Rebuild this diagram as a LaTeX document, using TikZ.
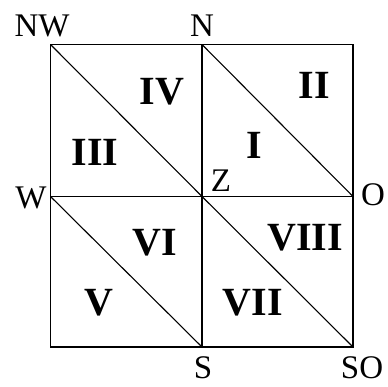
\documentclass[tikz,border=0pt]{standalone}
\usepackage{fontspec}
\setmainfont{Liberation Serif}
\begin{document}
\begin{tikzpicture}[x=1pt,y=-1pt,
  lbl/.style={inner sep=0pt,font=\fontsize{33}{33}\selectfont},
  num/.style={inner sep=0pt,font=\fontsize{40}{40}\selectfont\bfseries},
  edge/.style={line width=1.1pt}]
\useasboundingbox (0,0) rectangle (387,387);
\coordinate (NWc) at (50.5,44.5);
\coordinate (Nc) at (202,44.5);
\coordinate (NEc) at (353,44.5);
\coordinate (Wc) at (50.5,196.5);
\coordinate (Zc) at (202,196.5);
\coordinate (Oc) at (353,196.5);
\coordinate (SWc) at (50.5,347);
\coordinate (Sc) at (202,347);
\coordinate (SOc) at (353,347);
\draw[edge] (NWc) -- (NEc) -- (SOc) -- (SWc) -- cycle;
\draw[edge] (Nc) -- (Sc);
\draw[edge] (Wc) -- (Oc);
\draw[edge] (NWc) -- (Zc) -- (SOc);
\draw[edge] (Nc) -- (Oc);
\draw[edge] (Wc) -- (Sc);
\node[lbl] (nw) at (42,26) {NW};
\node[lbl] (n) at (202,26) {N};
\node[lbl] (w) at (31,198) {W};
\node[lbl] (o) at (373,195) {O};
\node[lbl] (z) at (221,181) {Z};
\node[lbl] (s) at (203,368) {S};
\node[lbl] (so) at (362,368) {SO};
\node[num] (r4) at (162,92) {IV};
\node[num] (r2) at (314,85) {II};
\node[num] (r3) at (95,152) {III};
\node[num] (r1) at (254,145) {I};
\node[num] (r6) at (155,243) {VI};
\node[num] (r8) at (305,238) {VIII};
\node[num] (r5) at (99,303) {V};
\node[num] (r7) at (253,303) {VII};
\end{tikzpicture}
\end{document}
